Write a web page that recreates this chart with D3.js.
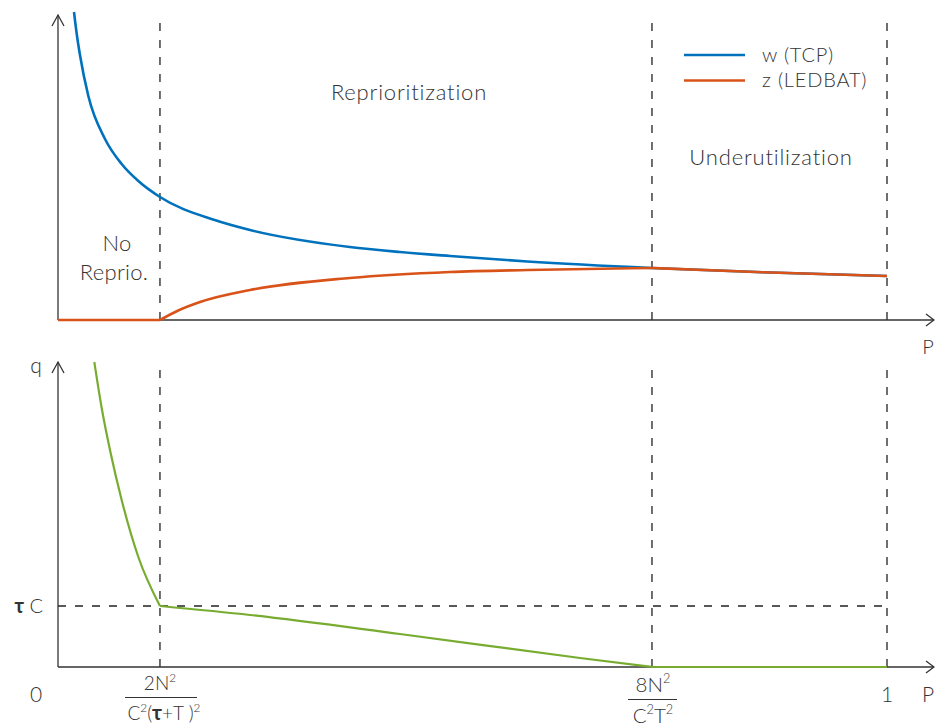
<!DOCTYPE html>
<html>
<head>
<meta charset="utf-8">
<script src="https://cdn.jsdelivr.net/npm/d3@7"></script>
<style>
  html, body { margin: 0; padding: 0; background: #fff; }
  svg { display: block; font-family: Lato, "Open Sans", sans-serif; font-weight: 300; }
</style>
</head>
<body>
<svg id="chart" width="935" height="726"></svg>
<script>
// ---------- data ----------
// regime boundaries on the P axis (normalised so that the last tick "1" is 1)
const regimeBounds = [0.123, 0.7165, 1];
const regimeLabels = ["No", "Reprio.", "Reprioritization", "Underutilization"];

// top panel: w (TCP) window
const tcpP = [0.0193, 0.0226, 0.0265, 0.0366, 0.0567, 0.0768, 0.0969, 0.123, 0.189, 0.2316, 0.352, 0.4125, 0.473, 0.566, 0.7165, 0.85, 1.0];
const tcpW = [308, 286, 265, 224, 181, 156, 139, 123, 100, 90, 73, 68, 64, 58.5, 52, 47.7, 44];

// top panel: z (LEDBAT) window
const ledbatP = [0, 0.123, 0.123, 0.145, 0.1713, 0.2316, 0.352, 0.473, 0.566, 0.7165, 0.7165, 0.85, 1.0];
const ledbatZ = [0, 0, 0, 9.5, 18, 30, 42, 48, 50, 52, 52, 47.7, 44];
const ledbatSegments = [[0, 2], [2, 10], [10, 13]];

// bottom panel: queue q
const queueP = [0.0438, 0.0527, 0.0627, 0.0768, 0.0969, 0.123, 0.123, 0.2316, 0.4125, 0.6297, 0.7165, 0.7165, 1.0];
const queueQ = [305, 259, 217, 167, 110, 61, 61, 52, 33, 9, 0, 0, 0];
const queueSegments = [[0, 6], [6, 11], [11, 13]];
const tauC = 61;

const seriesNames = ["w (TCP)", "z (LEDBAT)"];
const colors = { tcp: "#0072BD", ledbat: "#D95319", queue: "#77AC30", axis: "#333", text: "#333" };

// ---------- layout ----------
const svg = d3.select("#chart");
const X0 = 58, X1 = 887, XEND = 934;
const topPanel = { base: 320, peak: 15 };
const botPanel = { base: 667, peak: 362 };

const x = d3.scaleLinear().domain([0, 1]).range([X0, X1]);
const yTop = d3.scaleLinear().domain([0, 305]).range([topPanel.base, topPanel.peak]);
const yBot = d3.scaleLinear().domain([0, 305]).range([botPanel.base, botPanel.peak]);

// ---------- dashed guide lines ----------
const dash = "8,9";
regimeBounds.forEach(b => {
  svg.append("line").attr("x1", x(b)).attr("x2", x(b)).attr("y1", topPanel.base).attr("y2", 18)
    .attr("stroke", "#222").attr("stroke-width", 1.3).attr("stroke-dasharray", dash);
  svg.append("line").attr("x1", x(b)).attr("x2", x(b)).attr("y1", botPanel.base).attr("y2", 364)
    .attr("stroke", "#222").attr("stroke-width", 1.3).attr("stroke-dasharray", dash);
});
svg.append("line").attr("x1", X0).attr("x2", x(1)).attr("y1", yBot(tauC)).attr("y2", yBot(tauC))
  .attr("stroke", "#222").attr("stroke-width", 1.3).attr("stroke-dasharray", dash);

// ---------- axes with open arrowheads ----------
function axesFor(p) {
  const g = svg.append("g").attr("stroke", colors.axis).attr("stroke-width", 1.3).attr("fill", "none");
  g.append("line").attr("x1", X0).attr("x2", X0).attr("y1", p.base).attr("y2", p.peak);
  g.append("path").attr("d", `M${X0 - 6},${p.peak + 11} L${X0},${p.peak} L${X0 + 6},${p.peak + 11}`);
  g.append("line").attr("x1", X0).attr("x2", XEND).attr("y1", p.base).attr("y2", p.base);
  g.append("path").attr("d", `M${XEND - 8},${p.base - 6} L${XEND},${p.base} L${XEND - 8},${p.base + 6}`);
}
axesFor(topPanel);
axesFor(botPanel);

// ---------- curves ----------
function drawSeries(P, V, segs, yScale, color, width, curve) {
  const line = d3.line().x(d => x(d[0])).y(d => yScale(d[1])).curve(curve);
  const pts = P.map((p, i) => [p, V[i]]);
  segs.forEach(([a, b]) => {
    const seg = pts.slice(a, b);
    svg.append("path").attr("d", line(seg)).attr("fill", "none")
      .attr("stroke", color).attr("stroke-width", width).attr("stroke-linecap", "butt");
  });
}
drawSeries(tcpP, tcpW, [[0, tcpP.length]], yTop, colors.tcp, 2.6, d3.curveMonotoneX);
drawSeries(ledbatP, ledbatZ, ledbatSegments, yTop, colors.ledbat, 2.6, d3.curveMonotoneX);
drawSeries(queueP, queueQ, queueSegments, yBot, colors.queue, 2.2, d3.curveMonotoneX);

// ---------- legend ----------
const legend = svg.append("g");
[colors.tcp, colors.ledbat].forEach((c, i) => {
  const yy = 55 + i * 25.5;
  legend.append("line").attr("x1", 684).attr("x2", 745).attr("y1", yy).attr("y2", yy)
    .attr("stroke", c).attr("stroke-width", 2.4);
  legend.append("text").attr("x", 762).attr("y", yy + 6.5).attr("font-size", 20)
    .attr("letter-spacing", 0.8).attr("fill", colors.text).text(seriesNames[i]);
});

// ---------- region labels ----------
const t = (xx, yy, size, str, ls = 0, anchor = "middle") =>
  svg.append("text").attr("x", xx).attr("y", yy).attr("font-size", size)
    .attr("letter-spacing", ls).attr("text-anchor", anchor).attr("fill", colors.text).text(str);
t(117, 251, 22, regimeLabels[0], 0.3);
t(114, 280, 22, regimeLabels[1], 0.3);
t(409, 100, 22, regimeLabels[2], 0.8);
t(771, 165, 22, regimeLabels[3], 0.8);

// ---------- axis labels ----------
t(928, 354, 20, "P");
t(928, 702, 21, "P");
t(887, 702, 21, "1");
t(36, 702, 21, "0");
t(36, 373, 21, "q");

const tc = svg.append("text").attr("x", 43).attr("y", yBot(tauC) + 7).attr("font-size", 20)
  .attr("text-anchor", "end").attr("fill", colors.text);
tc.append("tspan").attr("font-weight", 700).text("τ");
tc.append("tspan").text(" C");

// ---------- fraction tick labels ----------
function sup(textSel, s, size) {
  textSel.append("tspan").attr("font-size", size * 0.62).attr("dy", -size * 0.42).text(s);
}
function back(textSel, s, size) {
  textSel.append("tspan").attr("dy", size * 0.42).text(s);
}
// 2N^2 / C^2(τ+T)^2
{
  const s = 19, cx = x(regimeBounds[0]);
  const num = svg.append("text").attr("x", cx).attr("y", 690).attr("font-size", s)
    .attr("text-anchor", "middle").attr("fill", colors.text);
  num.append("tspan").text("2N"); sup(num, "2", s);
  svg.append("line").attr("x1", 125).attr("x2", 197).attr("y1", 697.5).attr("y2", 697.5)
    .attr("stroke", colors.axis).attr("stroke-width", 1.2);
  const den = svg.append("text").attr("x", cx + 4).attr("y", 720).attr("font-size", s)
    .attr("text-anchor", "middle").attr("fill", colors.text);
  den.append("tspan").text("C"); sup(den, "2", s);
  back(den, "(", s);
  den.append("tspan").attr("font-weight", 700).attr("font-size", s * 1.1).text("τ");
  den.append("tspan").text("+T )"); sup(den, "2", s);
}
// 8N^2 / C^2 T^2
{
  const s = 20.5, cx = x(regimeBounds[1]) + 1;
  const num = svg.append("text").attr("x", cx).attr("y", 692).attr("font-size", s)
    .attr("text-anchor", "middle").attr("fill", colors.text);
  num.append("tspan").text("8N"); sup(num, "2", s);
  svg.append("line").attr("x1", 628).attr("x2", 677).attr("y1", 699.5).attr("y2", 699.5)
    .attr("stroke", colors.axis).attr("stroke-width", 1.2);
  const den = svg.append("text").attr("x", cx).attr("y", 723).attr("font-size", s)
    .attr("text-anchor", "middle").attr("fill", colors.text);
  den.append("tspan").text("C"); sup(den, "2", s);
  back(den, "T", s); sup(den, "2", s);
}
</script>
</body>
</html>
